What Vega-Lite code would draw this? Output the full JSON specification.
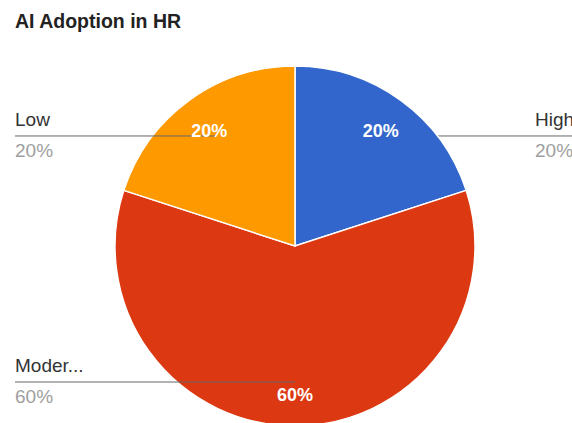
{
  "$schema": "https://vega.github.io/schema/vega-lite/v6.json",
  "width": 572,
  "height": 383,
  "autosize": {"type": "none"},
  "padding": {"left": 0, "top": 40, "right": 0, "bottom": 0},
  "background": "white",
  "config": {"view": {"stroke": null}, "font": "Liberation Sans"},
  "title": {
    "text": "AI Adoption in HR",
    "anchor": "start",
    "frame": "group",
    "font": "Liberation Sans",
    "fontSize": 19.5,
    "fontWeight": "bold",
    "color": "#222222",
    "offset": -7,
    "baseline": "alphabetic",
    "dx": 15
  },
  "data": {
    "values": [
      {"category": "High", "value": 20},
      {"category": "Moderate", "value": 60},
      {"category": "Low", "value": 20}
    ]
  },
  "transform": [
    {"window": [{"op": "row_number", "as": "rank"}]},
    {"joinaggregate": [{"op": "sum", "field": "value", "as": "total"}]},
    {"window": [{"op": "sum", "field": "value", "as": "cum"}], "sort": [{"field": "rank"}], "frame": [null, 0]},
    {"calculate": "datum.value / datum.total", "as": "share"},
    {"calculate": "(datum.cum - datum.value / 2) / datum.total * 2 * PI", "as": "mid"},
    {"calculate": "datum.mid < 0.99 * PI ? 'right' : 'left'", "as": "side"},
    {"calculate": "136 * sin(datum.mid)", "as": "ix"},
    {"calculate": "136 * cos(datum.mid)", "as": "iy"},
    {"calculate": "datum.side === 'right' ? 240 : -280", "as": "ox"},
    {"calculate": "datum.side === 'right' ? 300 : -280", "as": "ox2"}
  ],
  "layer": [
    {
      "transform": [{"filter": "datum.side === 'right'"}],
      "mark": {"type": "rule", "color": "#666666", "strokeWidth": 1},
      "encoding": {
        "x": {"field": "ix", "type": "quantitative", "scale": {"type": "linear", "domain": [-295, 277], "zero": false, "nice": false}, "axis": null},
        "x2": {"field": "ox2"},
        "y": {"field": "iy", "type": "quantitative", "scale": {"type": "linear", "domain": [-177, 206], "zero": false, "nice": false}, "axis": null}
      }
    },
    {
      "mark": {"type": "arc", "radius": 180, "stroke": "white", "strokeWidth": 1.5},
      "encoding": {
        "theta": {"field": "value", "type": "quantitative", "stack": true},
        "order": {"field": "rank", "type": "quantitative"},
        "color": {
          "field": "category",
          "type": "nominal",
          "scale": {"domain": ["High", "Moderate", "Low"], "range": ["#3366CC", "#DC3912", "#FF9900"]},
          "legend": null
        },
        "x": {"datum": 0, "type": "quantitative", "scale": {"type": "linear", "domain": [-295, 277], "zero": false, "nice": false}, "axis": null},
        "y": {"datum": 0, "type": "quantitative", "scale": {"type": "linear", "domain": [-177, 206], "zero": false, "nice": false}, "axis": null}
      }
    },
    {
      "transform": [{"filter": "datum.side === 'left'"}],
      "mark": {"type": "rule", "color": "#666666", "strokeWidth": 1},
      "encoding": {
        "x": {"field": "ix", "type": "quantitative", "axis": null},
        "x2": {"field": "ox2"},
        "y": {"field": "iy", "type": "quantitative", "axis": null}
      }
    },
    {
      "mark": {"type": "text", "radius": 146, "dy": 4, "fontSize": 18, "fontWeight": "bold", "color": "white", "font": "Liberation Sans"},
      "encoding": {
        "theta": {"field": "value", "type": "quantitative", "stack": true},
        "order": {"field": "rank", "type": "quantitative"},
        "text": {"field": "share", "type": "quantitative", "format": ".0%"},
        "x": {"datum": 0, "type": "quantitative", "axis": null},
        "y": {"datum": 0, "type": "quantitative", "axis": null}
      }
    },
    {
      "mark": {"type": "text", "align": "left", "baseline": "alphabetic", "dy": -10, "fontSize": 19, "color": "#333333", "limit": 74, "ellipsis": "...", "font": "Liberation Sans"},
      "encoding": {
        "x": {"field": "ox", "type": "quantitative", "axis": null},
        "y": {"field": "iy", "type": "quantitative", "axis": null},
        "text": {"field": "category", "type": "nominal"}
      }
    },
    {
      "mark": {"type": "text", "align": "left", "baseline": "alphabetic", "dy": 21, "fontSize": 19, "color": "#9E9E9E", "font": "Liberation Sans"},
      "encoding": {
        "x": {"field": "ox", "type": "quantitative", "axis": null},
        "y": {"field": "iy", "type": "quantitative", "axis": null},
        "text": {"field": "share", "type": "quantitative", "format": ".0%"}
      }
    }
  ]
}
